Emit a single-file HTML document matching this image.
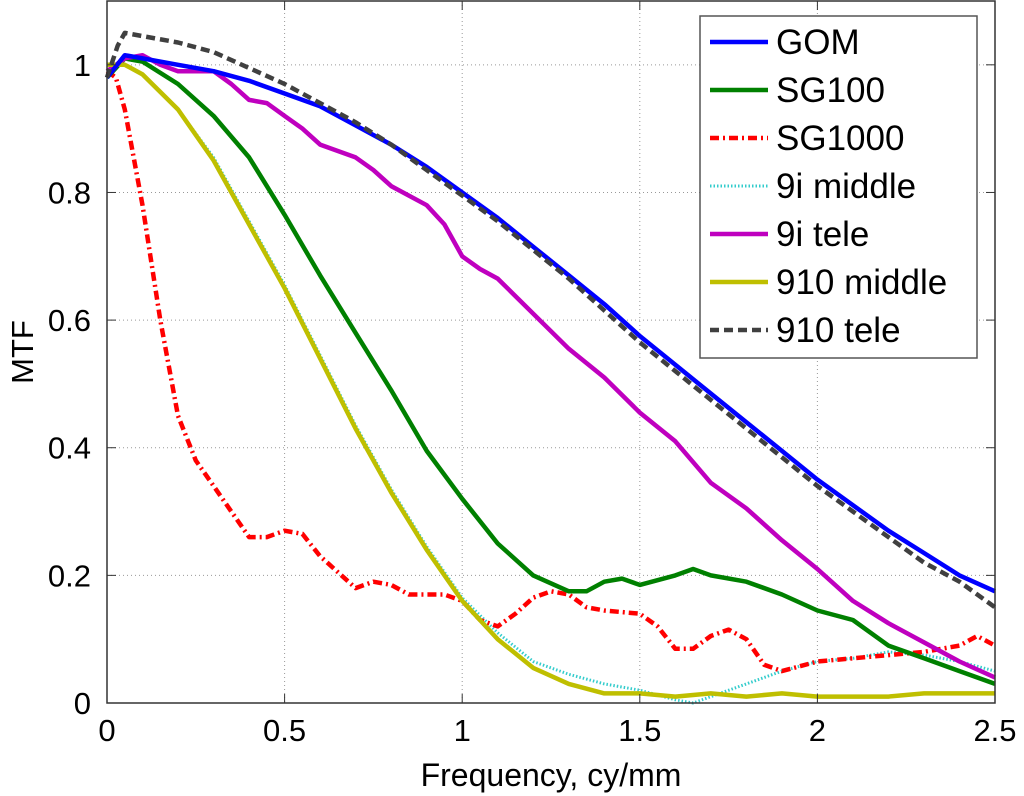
<!DOCTYPE html>
<html><head><meta charset="utf-8"><style>
body{margin:0;background:#fff;}
svg{display:block;font-family:"Liberation Sans",sans-serif;}
</style></head><body>
<svg id="chart" width="1024" height="796">
<g id="grid"></g>
<g id="series"></g>
<g id="axes"></g>
<g id="legend"></g>
</svg>
<script>
const xTicks=[0,0.5,1,1.5,2,2.5];
const xTickLabels=["0","0.5","1","1.5","2","2.5"];
const yTicks=[0,0.2,0.4,0.6,0.8,1];
const yTickLabels=["0","0.2","0.4","0.6","0.8","1"];
const seriesNames=["GOM","SG100","SG1000","9i middle","9i tele","910 middle","910 tele"];
const xStd=[0,0.05,0.1,0.2,0.3,0.4,0.5,0.6,0.7,0.8,0.9,1.0,1.1,1.2,1.3,1.4,1.5,1.6,1.7,1.8,1.9,2.0,2.1,2.2,2.3,2.4,2.5];
const gomY=[0.98,1.015,1.01,1.0,0.99,0.975,0.955,0.935,0.905,0.875,0.84,0.8,0.76,0.715,0.67,0.625,0.575,0.53,0.485,0.44,0.395,0.35,0.31,0.27,0.235,0.2,0.175];
const teleX=[0,0.03,0.05,0.1,0.2,0.3,0.4,0.5,0.6,0.7,0.8,0.9,1.0,1.1,1.2,1.3,1.4,1.5,1.6,1.7,1.8,1.9,2.0,2.1,2.2,2.3,2.4,2.5];
const tele910Y=[0.98,1.03,1.05,1.045,1.035,1.02,0.995,0.97,0.94,0.91,0.875,0.835,0.795,0.755,0.71,0.665,0.615,0.565,0.52,0.475,0.43,0.385,0.34,0.3,0.26,0.22,0.19,0.15];
const tele9iX=[0,0.05,0.1,0.15,0.2,0.3,0.35,0.4,0.45,0.5,0.55,0.6,0.7,0.75,0.8,0.9,0.95,1.0,1.05,1.1,1.2,1.3,1.4,1.5,1.6,1.7,1.8,1.9,2.0,2.1,2.2,2.3,2.4,2.5];
const tele9iY=[0.99,1.01,1.015,1.0,0.99,0.99,0.97,0.945,0.94,0.92,0.9,0.875,0.855,0.835,0.81,0.78,0.75,0.7,0.68,0.665,0.61,0.555,0.51,0.455,0.41,0.345,0.305,0.255,0.21,0.16,0.125,0.095,0.065,0.04];
const sg100X=[0,0.05,0.1,0.2,0.3,0.4,0.5,0.6,0.7,0.8,0.9,1.0,1.1,1.2,1.3,1.35,1.4,1.45,1.5,1.6,1.65,1.7,1.8,1.9,2.0,2.1,2.2,2.3,2.4,2.5];
const sg100Y=[0.98,1.01,1.005,0.97,0.92,0.855,0.765,0.67,0.58,0.49,0.395,0.32,0.25,0.2,0.175,0.175,0.19,0.195,0.185,0.2,0.21,0.2,0.19,0.17,0.145,0.13,0.09,0.07,0.05,0.03];
const mid910Y=[1.0,1.0,0.985,0.93,0.85,0.75,0.65,0.54,0.43,0.33,0.24,0.16,0.1,0.055,0.03,0.015,0.015,0.01,0.015,0.01,0.015,0.01,0.01,0.01,0.015,0.015,0.015];
const mid9iX=[0,0.05,0.1,0.2,0.3,0.4,0.5,0.6,0.7,0.8,0.9,1.0,1.1,1.2,1.3,1.4,1.5,1.6,1.65,1.7,1.8,1.9,2.0,2.1,2.2,2.3,2.4,2.5];
const mid9iY=[1.0,1.0,0.985,0.93,0.855,0.755,0.655,0.545,0.435,0.335,0.245,0.165,0.11,0.065,0.045,0.03,0.02,0.005,0.0,0.01,0.03,0.05,0.065,0.07,0.08,0.075,0.065,0.05];
const sg1000X=[0,0.025,0.05,0.1,0.15,0.2,0.25,0.3,0.35,0.4,0.45,0.5,0.55,0.6,0.7,0.75,0.8,0.85,0.9,0.95,1.0,1.05,1.1,1.15,1.2,1.25,1.3,1.35,1.4,1.5,1.55,1.6,1.65,1.7,1.75,1.8,1.85,1.9,2.0,2.1,2.2,2.3,2.4,2.45,2.5];
const sg1000Y=[0.99,0.98,0.93,0.78,0.6,0.45,0.38,0.34,0.3,0.26,0.26,0.27,0.265,0.23,0.18,0.19,0.185,0.17,0.17,0.17,0.16,0.13,0.12,0.14,0.165,0.175,0.17,0.15,0.145,0.14,0.12,0.085,0.085,0.105,0.115,0.1,0.06,0.05,0.065,0.07,0.075,0.08,0.09,0.105,0.09];

const NS='http://www.w3.org/2000/svg';
const L=107,R=995,T=1,B=703;
function sx(v){return L+(v/2.5)*(R-L);}
function sy(v){return B-(v/1.1)*(B-T);}
function mk(tag,attrs,parent){const e=document.createElementNS(NS,tag);for(const k in attrs)e.setAttribute(k,attrs[k]);parent.appendChild(e);return e;}
const grid=document.getElementById('grid'),axes=document.getElementById('axes'),sg=document.getElementById('series'),lg=document.getElementById('legend');
mk('rect',{x:L,y:T,width:R-L,height:B-T,fill:'#fff'},grid);
xTicks.forEach((t,i)=>{
  if(i>0&&i<xTicks.length-1){const g=mk('line',{x1:sx(t),x2:sx(t),y1:T,y2:B,stroke:'#999','stroke-dasharray':'1,3','stroke-width':1},grid);
  
  }
  mk('line',{x1:sx(t),x2:sx(t),y1:B,y2:B-9,stroke:'#333'},axes);
  mk('line',{x1:sx(t),x2:sx(t),y1:T,y2:T+9,stroke:'#333'},axes);
  const tx=mk('text',{x:sx(t),y:B+38,'text-anchor':'middle','font-size':31,fill:'#000'},axes);tx.textContent=xTickLabels[i];
  
  
});
yTicks.forEach((t,i)=>{
  if(i>0){const g=mk('line',{x1:L,x2:R,y1:sy(t),y2:sy(t),stroke:'#999','stroke-dasharray':'1,3','stroke-width':1},grid);
  
  }
  mk('line',{x1:L,x2:L+9,y1:sy(t),y2:sy(t),stroke:'#333'},axes);
  mk('line',{x1:R,x2:R-9,y1:sy(t),y2:sy(t),stroke:'#333'},axes);
  const tx=mk('text',{x:L-16,y:sy(t)+11,'text-anchor':'end','font-size':31,fill:'#000'},axes);tx.textContent=yTickLabels[i];
  
  
});
mk('rect',{x:L,y:T,width:R-L,height:B-T,fill:'none',stroke:'#333','stroke-width':1.5},axes);
const xt=mk('text',{x:(L+R)/2,y:786,'text-anchor':'middle','font-size':32},axes);xt.textContent='Frequency, cy/mm';


const yt=mk('text',{x:0,y:0,'text-anchor':'middle','font-size':31,transform:'translate(33,352) rotate(-90)'},axes);yt.textContent='MTF';



const styles=[
 {xs:xStd,ys:gomY,c:'#0000ff',d:'',n:'gom-line'},
 {xs:sg100X,ys:sg100Y,c:'#008000',d:'',n:'sg100-line'},
 {xs:sg1000X,ys:sg1000Y,c:'#ff0000',d:'9,4,2,4',n:'sg1000-line'},
 {xs:mid9iX,ys:mid9iY,c:'#33cccc',d:'1.5,2',n:'9i-middle-line'},
 {xs:tele9iX,ys:tele9iY,c:'#bf00bf',d:'',n:'9i-tele-line'},
 {xs:xStd,ys:mid910Y,c:'#bfbf00',d:'',n:'910-middle-line'},
 {xs:teleX,ys:tele910Y,c:'#404040',d:'9,5',n:'910-tele-line'}
];
const order=[3,2,1,4,5,0,6];
order.forEach(i=>{const s=styles[i];
  const pts=s.xs.map((x,j)=>sx(x).toFixed(1)+','+sy(s.ys[j]).toFixed(1)).join(' ');
  const p=mk('polyline',{points:pts,fill:'none',stroke:s.c,'stroke-width':i==3?3:4.5,'stroke-dasharray':s.d,'stroke-linejoin':'round'},sg);
  
  
});
const lb=mk('rect',{x:700,y:16,width:277,height:342,fill:'#fff',stroke:'#555','stroke-width':1.5},lg);


seriesNames.forEach((nm,i)=>{const s=styles[i];const y=42+i*48;
  const g=mk('g',{},lg);
  
  
  mk('line',{x1:710,x2:768,y1:y,y2:y,stroke:s.c,'stroke-width':i==3?3:4.5,'stroke-dasharray':s.d},g);
  const t=mk('text',{x:776,y:y+12,'font-size':35,fill:'#000'},g);t.textContent=nm;
});
</script>
</body></html>
